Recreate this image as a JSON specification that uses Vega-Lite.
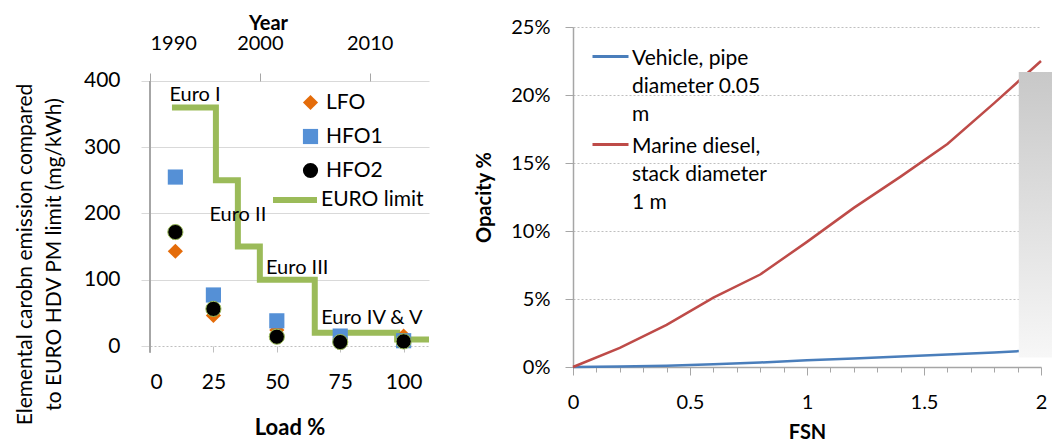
{
  "$schema": "https://vega.github.io/schema/vega-lite/v6.json",
  "background": "white",
  "padding": {"left": 13, "top": 13, "right": 0, "bottom": 0},
  "spacing": 33,
  "config": {
    "font": "Lato",
    "view": {"stroke": null},
    "axis": {"labelFont": "Lato", "titleFont": "Lato", "labelColor": "#000", "titleColor": "#000"},
    "legend": {"labelFont": "Lato", "labelColor": "#000"},
    "text": {"font": "Lato"}
  },
  "resolve": {
    "scale": {"color": "independent", "shape": "independent", "stroke": "independent"},
    "legend": {"color": "independent", "shape": "independent", "stroke": "independent"}
  },
  "hconcat": [
    {
      "width": 279,
      "height": 319,
      "layer": [
        {
          "data": {"values": [
            {"series": "EURO limit", "year": 1992, "value": 360},
            {"series": "EURO limit", "year": 1996, "value": 250},
            {"series": "EURO limit", "year": 1998, "value": 150},
            {"series": "EURO limit", "year": 2000, "value": 100},
            {"series": "EURO limit", "year": 2005, "value": 20},
            {"series": "EURO limit", "year": 2012.5, "value": 10},
            {"series": "EURO limit", "year": 2015.4, "value": 10}
          ]},
          "mark": {"type": "line", "interpolate": "step-after", "strokeWidth": 6, "clip": false},
          "encoding": {
            "x": {"field": "year", "type": "quantitative",
              "scale": {"domain": [1990, 2015.4], "nice": false, "zero": false},
              "axis": {"orient": "top", "offset": -54, "title": "Year", "values": [1990, 2000, 2010], "format": "d", "grid": false, "domain": false,
                "tickSize": 8, "tickColor": "#a6a6a6", "labelFontSize": 20, "labelPadding": 20,
                "titleFontSize": 20, "titleFontWeight": "bold", "titleX": 118, "titleY": -58, "titleBaseline": "middle", "titleAlign": "center"}},
            "y": {"field": "value", "type": "quantitative",
              "scale": {"domain": [0, 481.5], "nice": false},
              "axis": {"title": ["Elemental carobn emission compared", "to EURO HDV PM  limit (mg/kWh)"],
                "values": [0, 50, 100, 150, 200, 250, 300, 350, 400], "domain": false,
                "tickSize": 9, "tickColor": "#d9d9d9", "gridColor": "#d9d9d9",
                "gridOpacity": {"condition": {"test": "datum.value === 0", "value": 0}, "value": 1},
                "labelFontSize": 21, "labelPadding": 21,
                "titleFontSize": 21, "titleFontWeight": "normal", "titleAngle": -90, "titleX": -136, "titleY": 227,
                "titleAlign": "center", "titleBaseline": "top", "titleLineHeight": 29}},
            "stroke": {"field": "series", "type": "nominal",
              "scale": {"domain": ["EURO limit"], "range": ["#9BBB59"]},
              "legend": {"title": null, "orient": "none", "legendX": 120, "legendY": 148, "symbolSize": 1936,
                "symbolStrokeWidth": 6, "labelFontSize": 21, "labelOffset": 1, "padding": 0, "symbolType": "stroke"}}
          }
        },
        {
          "data": {"values": [{}]},
          "mark": {"type": "rule", "color": "#a6a6a6", "strokeWidth": 2},
          "encoding": {
            "x": {"datum": 0, "type": "quantitative", "scale": {"domain": [0, 110], "nice": false}, "axis": null},
            "y": {"datum": -10, "type": "quantitative"},
            "y2": {"datum": 400}
          }
        },
        {
          "data": {"values": [
            {"label": "Euro I", "year": 1994.1, "value": 379},
            {"label": "Euro II", "year": 1998.0, "value": 198},
            {"label": "Euro III", "year": 2003.4, "value": 118},
            {"label": "Euro IV & V", "year": 2010.2, "value": 42}
          ]},
          "mark": {"type": "text", "fontSize": 20, "color": "#000"},
          "encoding": {
            "x": {"field": "year", "type": "quantitative", "scale": {"domain": [1990, 2015.4], "nice": false, "zero": false}, "axis": null},
            "y": {"field": "value", "type": "quantitative"},
            "text": {"field": "label"}
          }
        },
        {
          "data": {"values": [
            {"series": "LFO", "load": 10, "value": 143},
            {"series": "LFO", "load": 25, "value": 46},
            {"series": "LFO", "load": 50, "value": 24},
            {"series": "LFO", "load": 75, "value": 12},
            {"series": "LFO", "load": 100, "value": 15},
            {"series": "HFO1", "load": 10, "value": 255},
            {"series": "HFO1", "load": 25, "value": 77},
            {"series": "HFO1", "load": 50, "value": 38},
            {"series": "HFO1", "load": 75, "value": 15},
            {"series": "HFO1", "load": 100, "value": 8},
            {"series": "HFO2", "load": 10, "value": 172},
            {"series": "HFO2", "load": 25, "value": 56},
            {"series": "HFO2", "load": 50, "value": 14},
            {"series": "HFO2", "load": 75, "value": 6},
            {"series": "HFO2", "load": 100, "value": 7}
          ]},
          "mark": {"type": "point", "filled": true, "opacity": 1, "size": 230, "stroke": "#9BBB59"},
          "encoding": {
            "x": {"field": "load", "type": "quantitative", "scale": {"domain": [0, 110], "nice": false},
              "axis": {"orient": "bottom", "values": [0, 25, 50, 75, 100], "title": "Load %", "grid": false,
                "domainColor": "#bfbfbf", "domainDash": [2, 2], "tickSize": 6, "tickColor": "#bfbfbf",
                "labelFontSize": 21, "labelPadding": 19, "titleFontSize": 22, "titleFontWeight": "bold", "titlePadding": 25}},
            "y": {"field": "value", "type": "quantitative"},
            "color": {"field": "series", "type": "nominal",
              "scale": {"domain": ["LFO", "HFO1", "HFO2"], "range": ["#E46C0A", "#5590D6", "#000000"]},
              "legend": {"title": null, "orient": "none", "legendX": 150, "legendY": 65, "labelFontSize": 21,
                "symbolSize": 230, "rowPadding": 12, "labelOffset": 5, "padding": 0, "symbolStrokeWidth": 0, "symbolOpacity": 1}},
            "shape": {"field": "series", "type": "nominal",
              "scale": {"domain": ["LFO", "HFO1", "HFO2"], "range": ["diamond", "square", "circle"]}},
            "strokeWidth": {"condition": {"test": "datum.series === 'HFO2'", "value": 1}, "value": 0}
          }
        }
      ],
      "resolve": {"scale": {"x": "independent"}}
    },
    {
      "width": 468,
      "height": 340,
      "layer": [
        {
          "data": {"values": [
            {"series": "Vehicle", "fsn": 0, "opacity": 0},
            {"series": "Vehicle", "fsn": 0.2, "opacity": 0.03},
            {"series": "Vehicle", "fsn": 0.4, "opacity": 0.1},
            {"series": "Vehicle", "fsn": 0.6, "opacity": 0.2},
            {"series": "Vehicle", "fsn": 0.8, "opacity": 0.33},
            {"series": "Vehicle", "fsn": 1.0, "opacity": 0.5},
            {"series": "Vehicle", "fsn": 1.2, "opacity": 0.63},
            {"series": "Vehicle", "fsn": 1.4, "opacity": 0.78},
            {"series": "Vehicle", "fsn": 1.6, "opacity": 0.92},
            {"series": "Vehicle", "fsn": 1.8, "opacity": 1.06},
            {"series": "Vehicle", "fsn": 2.0, "opacity": 1.27},
            {"series": "Marine", "fsn": 0, "opacity": 0},
            {"series": "Marine", "fsn": 0.2, "opacity": 1.4},
            {"series": "Marine", "fsn": 0.4, "opacity": 3.1},
            {"series": "Marine", "fsn": 0.6, "opacity": 5.1},
            {"series": "Marine", "fsn": 0.8, "opacity": 6.8},
            {"series": "Marine", "fsn": 1.0, "opacity": 9.2},
            {"series": "Marine", "fsn": 1.2, "opacity": 11.7},
            {"series": "Marine", "fsn": 1.4, "opacity": 14.0},
            {"series": "Marine", "fsn": 1.6, "opacity": 16.4},
            {"series": "Marine", "fsn": 1.8, "opacity": 19.4},
            {"series": "Marine", "fsn": 2.0, "opacity": 22.5}
          ]},
          "mark": {"type": "line", "strokeWidth": 2.5},
          "encoding": {
            "x": {"field": "fsn", "type": "quantitative", "scale": {"domain": [0, 2], "nice": false},
              "axis": {"values": [0, 0.5, 1, 1.5, 2], "format": "~g", "title": "FSN", "grid": false, "domainColor": "#a6a6a6", "domainWidth": 1.5,
                "tickColor": "#a6a6a6", "tickSize": 8, "labelFontSize": 20, "labelPadding": 17, "labelFlush": false,
                "titleFontSize": 20, "titleFontWeight": "bold", "titlePadding": 10}},
            "y": {"field": "opacity", "type": "quantitative", "scale": {"domain": [0, 25], "nice": false},
              "axis": {"values": [0, 5, 10, 15, 20, 25], "labelExpr": "datum.value + '%'", "title": "Opacity %",
                "gridDash": [2, 2], "gridColor": "#bfbfbf", "domainColor": "#a6a6a6", "domainWidth": 1.5,
                "tickColor": "#a6a6a6", "tickSize": 8, "labelFontSize": 20, "labelPadding": 15,
                "titleFontSize": 20, "titleFontWeight": "bold", "titlePadding": 16}},
            "color": {"field": "series", "type": "nominal",
              "scale": {"domain": ["Vehicle", "Marine"], "range": ["#4A7EBB", "#BE4B48"]},
              "legend": {"title": null, "orient": "none", "legendX": 18, "legendY": 10,
                "labelExpr": "datum.label === 'Vehicle' ? ['Vehicle, pipe', 'diameter 0.05', 'm'] : ['Marine diesel,', 'stack diameter', '1 m']",
                "labelFontSize": 21, "symbolType": "stroke", "symbolSize": 1296, "symbolStrokeWidth": 3,
                "labelOffset": 2, "rowPadding": -9, "padding": 0, "labelBaseline": "top", "labelLimit": 0,
                "encode": {"labels": {"update": {"lineHeight": {"value": 28}, "dy": {"value": -9}}}}}}
          }
        },
        {
          "data": {"values": [
            {"fsn": 0, "opacity": 0},
            {"fsn": 2, "opacity": 0}
          ]},
          "mark": {"type": "point", "opacity": 0},
          "encoding": {
            "x": {"field": "fsn", "type": "quantitative",
              "axis": {"orient": "bottom", "values": [0.1, 0.2, 0.3, 0.4, 0.6, 0.7, 0.8, 0.9, 1.1, 1.2, 1.3, 1.4, 1.6, 1.7, 1.8, 1.9],
                "labels": false, "domain": false, "grid": false, "tickSize": 5, "tickColor": "#a6a6a6", "title": null}},
            "y": {"field": "opacity", "type": "quantitative"}
          }
        },
        {
          "data": {"values": [{}]},
          "mark": {"type": "rect", "clip": false,
            "fill": {"gradient": "linear", "x1": 0, "y1": 0, "x2": 0, "y2": 1,
              "stops": [{"offset": 0, "color": "#c8c8c8"}, {"offset": 1, "color": "#f7f7f7"}]}},
          "encoding": {
            "x": {"datum": 1.905, "type": "quantitative", "axis": null},
            "x2": {"datum": 2.047},
            "y": {"datum": 21.7, "type": "quantitative"},
            "y2": {"datum": 0.7}
          }
        }
      ],
      "resolve": {"axis": {"x": "independent"}}
    }
  ]
}
